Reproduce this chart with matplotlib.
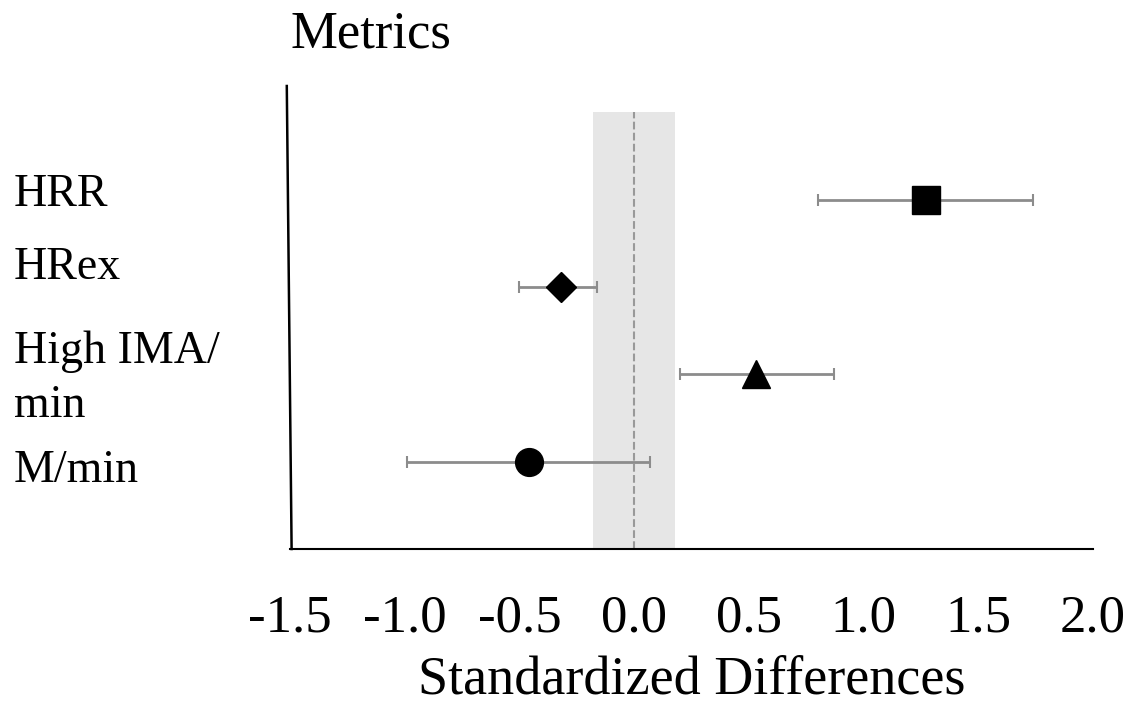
import matplotlib.pyplot as plt
import matplotlib.transforms as mtransforms

# data
metrics = ['HRR', 'HRex', 'High IMA/\nmin', 'M/min']
effect = [1.27, -0.32, 0.53, -0.46]
ci_low = [0.80, -0.50, 0.20, -0.99]
ci_high = [1.74, -0.16, 0.87, 0.07]
markers = ['s', 'D', '^', 'o']
msizes = [20, 15, 20, 20]
band = [-0.18, 0.18]
xticks = [-1.5, -1.0, -0.5, 0.0, 0.5, 1.0, 1.5, 2.0]

# label baselines (last line) sit a bit off the marker rows in the original
label_shift = [-0.07, 0.09, -0.49, -0.23]

plt.rcParams['font.family'] = ['Liberation Serif', 'DejaVu Serif']

fig = plt.figure(figsize=(11.35, 7.08), dpi=100)
ax = fig.add_axes([290 / 1135, 1 - 549 / 708, (1093 - 290) / 1135, (549 - 86) / 708])

ys = list(range(len(metrics), 0, -1))

ax.fill_betweenx([0, 5.0], band[0], band[1], color='#e6e6e6', lw=0, zorder=0)
ax.plot([0, 0], [0, 5.0], ls='--', color='#999999', lw=1.5, zorder=1)

for y, e, lo, hi, m, s in zip(ys, effect, ci_low, ci_high, markers, msizes):
    ax.errorbar(e, y, xerr=[[e - lo], [hi - e]], fmt='none', ecolor='#8c8c8c',
                elinewidth=2, capsize=4, capthick=1.5, zorder=2)
    ax.plot(e, y, marker=m, ms=s, color='black', ls='none', zorder=3)

ax.set_xlim(-1.5, 2.0)
ax.set_ylim(0, 5.3)
ax.set_xticks(xticks)
ax.set_xticklabels([f'{t:.1f}' for t in xticks], fontsize=38)
ax.tick_params(axis='x', length=0, pad=33)
ax.set_yticks([])

# metric names, left aligned near the figure edge
trans = mtransforms.blended_transform_factory(fig.transFigure, ax.transData)
for y, name, dy in zip(ys, metrics, label_shift):
    ax.text(14 / 1135, y + dy, name, transform=trans, fontsize=33,
            ha='left', va='baseline', linespacing=1.37)

ax.spines['top'].set_visible(False)
ax.spines['right'].set_visible(False)
ax.spines['left'].set_visible(False)
ax.spines['bottom'].set_linewidth(1.5)
# left axis line is slightly slanted in the reference
ax.plot([-0.004, 0.002], [1.0, 0.0], transform=ax.transAxes, color='black',
        lw=1.8, clip_on=False)

ax.set_xlabel('Standardized Differences', fontsize=39, va='baseline')
ax.xaxis.set_label_coords(0.5, -(694 - 549) / 463)
fig.text(290 / 1135, 1 - 48 / 708, 'Metrics', fontsize=38, va='baseline', ha='left')

plt.savefig('out.png')
plt.close()
